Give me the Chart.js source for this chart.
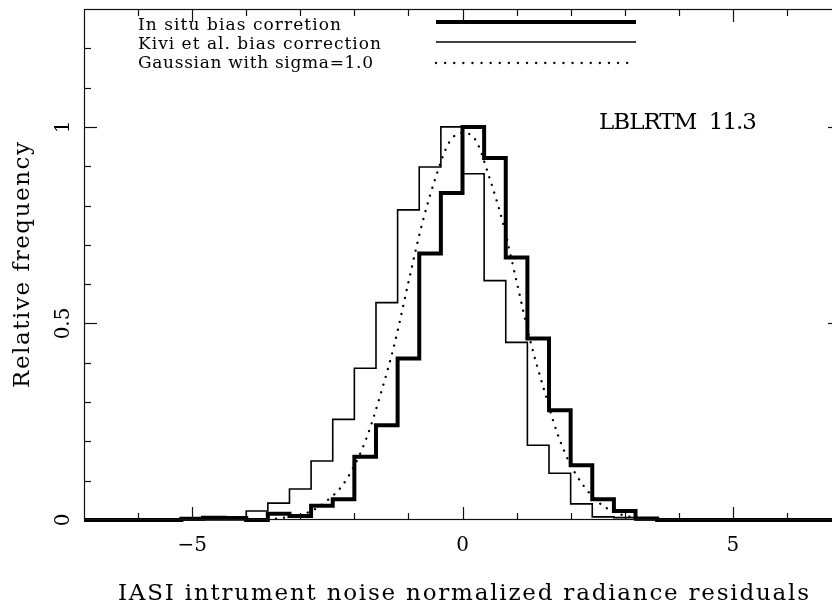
<!DOCTYPE html>
<html>
<head>
<meta charset="utf-8">
<script src="https://cdn.jsdelivr.net/npm/chart.js@4.4.1/dist/chart.umd.min.js"></script>
<style>
  html, body { margin: 0; padding: 0; background: #fff; overflow: hidden; }
  #wrap { position: relative; width: 850px; height: 602px; }
</style>
</head>
<body>
<div id="wrap"><canvas id="histChart" width="850" height="602"></canvas></div>
<script>
// histogram bins (left edges, width 0.4)
const binLeft = [-5.2, -4.8, -4.4, -4.0, -3.6, -3.2, -2.8, -2.4, -2.0, -1.6, -1.2,
                 -0.8, -0.4, 0.0, 0.4, 0.8, 1.2, 1.6, 2.0, 2.4, 2.8, 3.2];
const binWidth = 0.4;

// relative frequency per bin
const inSitu = [0.003, 0.006, 0.005, 0.0, 0.016, 0.010, 0.036, 0.053, 0.161, 0.241, 0.411,
                0.678, 0.832, 1.0, 0.921, 0.668, 0.462, 0.279, 0.139, 0.053, 0.023, 0.004];
const kivi   = [0.0, 0.0, 0.0, 0.023, 0.043, 0.079, 0.150, 0.256, 0.386, 0.553, 0.789,
                0.898, 1.0, 0.881, 0.609, 0.452, 0.190, 0.119, 0.041, 0.008, 0.006, 0.0];

// dotted reference curve
const gaussX = [-3.75, -3.5, -3.25, -3, -2.75, -2.5, -2.25, -2, -1.75, -1.5, -1.25, -1, -0.75, -0.5, -0.25,
                0, 0.25, 0.5, 0.75, 1, 1.25, 1.5, 1.75, 2, 2.25, 2.5, 2.75, 3, 3.25];
const gaussY = [0.001, 0.003, 0.007, 0.013, 0.026, 0.050, 0.083, 0.138, 0.218, 0.327, 0.452, 0.605, 0.752, 0.870, 0.960,
                0.985, 0.965, 0.870, 0.755, 0.607, 0.458, 0.335, 0.222, 0.140, 0.085, 0.047, 0.024, 0.011, 0.005];

// axes
const xRange = [-7, 7];
const yRange = [0, 1.3];
const xMajor = [-5, 0, 5];
const xMinor = [-6, -5, -4, -3, -2, -1, 0, 1, 2, 3, 4, 5, 6];
const xTickLabels = ['\u22125', '0', '5'];
const yMajor = [0, 0.5, 1];
const yMinor = [0.1, 0.2, 0.3, 0.4, 0.5, 0.6, 0.7, 0.8, 0.9, 1, 1.1, 1.2];
const yTickLabels = ['0', '0.5', '1'];

const xTitle = 'IASI intrument noise normalized radiance residuals';
const yTitle = 'Relative frequency';
const legendLabels = ['In situ bias corretion', 'Kivi et al. bias correction', 'Gaussian with sigma=1.0'];
const noteText = 'LBLRTM  11.3';

const SERIF = '"DejaVu Serif", "Liberation Serif", serif';

function stepData(vals) {
  const pts = [{ x: xRange[0], y: 0 }];
  binLeft.forEach((x0, i) => pts.push({ x: x0, y: vals[i] }));
  pts.push({ x: binLeft[binLeft.length - 1] + binWidth, y: 0 });
  pts.push({ x: xRange[1] + 0.2, y: 0 });
  return pts;
}

// draw text stretched to a given width (old plotter fonts are wide)
function fitText(ctx, text, left, base, width, font, angle) {
  ctx.save();
  ctx.font = font;
  ctx.letterSpacing = '0px';
  const w = ctx.measureText(text).width;
  const sp = (width - w) / Math.max(1, text.length - 1);
  ctx.letterSpacing = sp + 'px';
  ctx.textAlign = 'left';
  ctx.textBaseline = 'alphabetic';
  ctx.translate(left, base);
  if (angle) ctx.rotate(angle);
  ctx.fillText(text, 0, 0);
  ctx.restore();
}

const framePlugin = {
  id: 'framePlugin',
  afterDatasetsDraw(chart) {
    const { ctx, chartArea: a, scales: { x, y } } = chart;
    ctx.save();
    ctx.strokeStyle = '#111';
    ctx.lineWidth = 1.2;
    ctx.strokeRect(a.left + 0.5, a.top + 0.5, a.right - a.left - 1, a.bottom - a.top - 1);

    const line = (x1, y1, x2, y2) => { ctx.beginPath(); ctx.moveTo(x1, y1); ctx.lineTo(x2, y2); ctx.stroke(); };
    xMinor.forEach(v => {
      const len = xMajor.includes(v) ? 13 : 7;
      const px = Math.round(x.getPixelForValue(v)) + 0.5;
      line(px, a.bottom, px, a.bottom - len);
      line(px, a.top, px, a.top + len);
    });
    yMinor.forEach(v => {
      const len = yMajor.includes(v) ? 13 : 7;
      const py = Math.round(y.getPixelForValue(v)) + 0.5;
      line(a.left, py, a.left + len, py);
      line(a.right, py, a.right - len, py);
    });

    // tick labels
    ctx.fillStyle = '#000';
    ctx.font = '20px ' + SERIF;
    ctx.textAlign = 'center';
    ctx.textBaseline = 'alphabetic';
    xMajor.forEach((v, i) => ctx.fillText(xTickLabels[i], x.getPixelForValue(v), 551));
    yMajor.forEach((v, i) => {
      ctx.save();
      ctx.translate(69, y.getPixelForValue(v));
      ctx.rotate(-Math.PI / 2);
      ctx.fillText(yTickLabels[i], 0, 0);
      ctx.restore();
    });

    // axis titles
    fitText(ctx, xTitle, 118, 600, 691, '23px ' + SERIF, 0);
    fitText(ctx, yTitle, 29, 388, 246, '23px ' + SERIF, -Math.PI / 2);

    // annotation
    fitText(ctx, noteText, 599, 129, 158, '23px ' + SERIF, 0);

    // legend
    const rows = [
      { base: 30, ly: 22, width: 4, dash: [] },
      { base: 49, ly: 42, width: 1.6, dash: [] },
      { base: 68, ly: 63, width: 2.3, dash: [0.1, 9] }
    ];
    const textW = [203, 243, 235];
    rows.forEach((r, i) => {
      fitText(ctx, legendLabels[i], 138, r.base, textW[i], '17px ' + SERIF, 0);
      ctx.save();
      ctx.lineWidth = r.width;
      ctx.strokeStyle = '#000';
      ctx.setLineDash(r.dash);
      ctx.lineCap = r.dash.length ? 'round' : 'butt';
      line(436, r.ly, 636, r.ly);
      ctx.restore();
    });
    ctx.restore();
  }
};

const ctxHist = document.getElementById('histChart').getContext('2d');
new Chart(ctxHist, {
  type: 'line',
  data: {
    datasets: [
      {
        label: legendLabels[0],
        data: stepData(inSitu),
        stepped: true,
        borderColor: '#000',
        borderWidth: 4,
        borderJoinStyle: 'miter',
        pointRadius: 0,
        fill: false,
        clip: { left: 0, top: 5, right: 5, bottom: 5 }
      },
      {
        label: legendLabels[1],
        data: stepData(kivi),
        stepped: true,
        borderColor: '#000',
        borderWidth: 1.6,
        borderJoinStyle: 'miter',
        pointRadius: 0,
        fill: false,
        clip: { left: 0, top: 5, right: 5, bottom: 5 }
      },
      {
        label: legendLabels[2],
        data: gaussX.map((gx, i) => ({ x: gx, y: gaussY[i] })),
        borderColor: '#000',
        borderWidth: 2.3,
        borderDash: [0.1, 8],
        borderCapStyle: 'round',
        cubicInterpolationMode: 'monotone',
        pointRadius: 0,
        fill: false
      }
    ]
  },
  options: {
    responsive: false,
    animation: false,
    devicePixelRatio: 1,
    layout: { padding: { left: 84, right: 9, top: 9, bottom: 82 } },
    scales: {
      x: { type: 'linear', min: xRange[0], max: xRange[1], display: false },
      y: { type: 'linear', min: yRange[0], max: yRange[1], display: false }
    },
    plugins: {
      legend: { display: false },
      tooltip: { enabled: false }
    }
  },
  plugins: [framePlugin]
});
</script>
</body>
</html>
